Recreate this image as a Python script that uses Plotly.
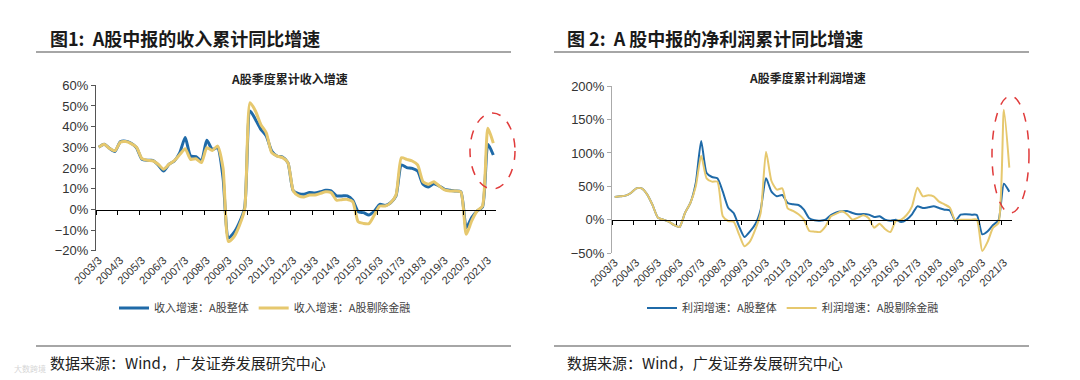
import plotly.graph_objects as go

# ---------------- data ----------------
quarters = [f"{y}/{m}" for y in range(2003, 2022) for m in (3, 6, 9, 12)][:74]
tick_labels = [f"{y}/3" for y in range(2003, 2022)]

rev_all = [30.0, 31.5, 29.5, 28.0, 32.7, 33.0, 32.0, 29.8, 24.2, 23.7, 23.7, 21.5, 18.5, 21.8, 23.4, 27.4,
           34.7, 25.8, 25.5, 23.4, 33.4, 29.0, 29.8, 15.3, -13.7, -11.3, -6.5, 0.8, 47.6, 43.5, 38.7, 35.5,
           28.2, 25.8, 25.3, 22.6, 8.9, 7.6, 7.3, 8.1, 7.9, 8.5, 9.2, 8.9, 6.5, 6.5, 6.5, 4.4,
           -1.1, -1.6, -2.7, -0.8, 2.4, 1.9, 3.2, 6.5, 21.5, 20.2, 19.8, 18.5, 12.1, 10.8, 12.4, 11.3,
           9.7, 9.2, 8.9, 8.5, -8.9, -4.0, -0.8, 1.1, 31.5, 26.3]
rev_exfin = [30.0, 31.5, 29.5, 28.3, 32.5, 32.8, 31.8, 30.0, 24.5, 23.7, 23.5, 21.8, 19.4, 21.8, 23.6, 26.5,
             29.3, 24.2, 24.5, 22.6, 29.8, 28.5, 30.6, 20.0, -15.5, -13.4, -8.0, 0.0, 51.6, 47.6, 41.0, 37.0,
             27.4, 25.8, 25.0, 22.6, 8.9, 6.5, 6.0, 6.9, 6.9, 7.7, 8.5, 8.1, 4.4, 4.7, 4.8, 3.7,
             -6.0, -6.8, -6.9, -2.7, 1.6, 1.6, 3.2, 6.9, 25.0, 24.2, 23.4, 21.5, 13.4, 12.1, 13.4, 11.3,
             9.4, 8.9, 8.9, 8.4, -12.1, -5.6, -0.8, 1.6, 39.2, 32.0]
profit_all = [34, 35, 36, 40, 47, 47, 38, 22, 3, 0, -3, -8, -11, 10, 25, 55,
              118, 70, 64, 62, 42, 18, 10, -10, -26, -18, -7, 15, 62, 42, 35, 37,
              25, 23, 22, 15, 2, -1, -1.5, 0, 7, 11, 12.5, 13, 10, 8, 8.5, 7.5,
              4, 5, 0, -1.5, 0, -3.5, 0, 8, 20, 17.5, 18.5, 20, 17.5, 15, 14, -2,
              7.5, 8, 7.5, 7, -22, -17.5, -8, -1, 54, 42]
profit_exfin = [34, 35, 36, 40, 47, 47, 38, 22, 3, 0, -3, -8, -11, 10, 25, 50,
                96, 62, 57, 57, 5, -2, -3, -22, -40, -33, -15, 10, 102, 58, 45, 47,
                17, 13, 8, 0, -17, -18, -18.5, -10, 5, 9, 12.5, 8, 0, 3, 6.5, 2,
                -12, -6, -14, -18.5, -2, 0, 7, 20, 48, 35, 36.5, 35, 27, 23, 18, -1,
                0, 0, 0, 0, -47, -33, -12, -5, 165, 78]

names_left = ["收入增速：A股整体", "收入增速：A股剔除金融"]
names_right = ["利润增速：A股整体", "利润增速：A股剔除金融"]

BLUE = "#1F6AA8"
GOLD = "#E6C86E"
W, H = 1080, 380


def px(x):
    return x / W


def py(y):
    return 1 - y / H


idx = list(range(len(quarters)))
tickpos = [i for i, q in enumerate(quarters) if q.endswith("/3")]
bounds = [i - 0.5 for i in range(0, len(quarters), 4)]

fig = go.Figure()
line_kw = dict(shape="spline", smoothing=0.6)

fig.add_trace(go.Scatter(x=idx, y=rev_all, name=names_left[0], mode="lines",
                         line=dict(color=BLUE, width=3, **line_kw), xaxis="x", yaxis="y", legend="legend"))
fig.add_trace(go.Scatter(x=idx, y=rev_exfin, name=names_left[1], mode="lines",
                         line=dict(color=GOLD, width=3, **line_kw), xaxis="x", yaxis="y", legend="legend"))
fig.add_trace(go.Scatter(x=idx, y=profit_all, name=names_right[0], mode="lines",
                         line=dict(color=BLUE, width=2, **line_kw), xaxis="x3", yaxis="y2", legend="legend2"))
fig.add_trace(go.Scatter(x=idx, y=profit_exfin, name=names_right[1], mode="lines",
                         line=dict(color=GOLD, width=2, **line_kw), xaxis="x3", yaxis="y2", legend="legend2"))
# invisible carriers for the zero-line axes
fig.add_trace(go.Scatter(x=idx, y=rev_all, mode="lines", opacity=0, showlegend=False, hoverinfo="skip",
                         xaxis="x2", yaxis="y"))
fig.add_trace(go.Scatter(x=idx, y=profit_all, mode="lines", opacity=0, showlegend=False, hoverinfo="skip",
                         xaxis="x4", yaxis="y2"))

xr = [-0.5, len(quarters) - 0.5]
tickfont = dict(family="Liberation Sans, Arial", size=11, color="#333")
ytickfont = dict(family="Liberation Sans, Arial", size=13, color="#333")

L_dom = [px(88), px(488)]
R_dom = [px(604), px(1004)]
L_y = [py(242.7), py(77.3)]
R_y = [py(245), py(78.3)]

common_x = dict(range=xr, showgrid=False, zeroline=False, fixedrange=True, automargin=False)
legfont = dict(family="Noto Sans CJK SC", size=11, color="#404040")
fig.update_layout(
    template="none",
    xaxis=dict(domain=L_dom, anchor="y", tickvals=tickpos, ticktext=tick_labels, tickangle=-45,
               showline=False, ticks="", tickfont=tickfont, **common_x),
    xaxis2=dict(overlaying="x", anchor="free", position=py(201.7), showline=True, linecolor="#000",
                linewidth=1, ticks="outside", ticklen=4, tickcolor="#000", tickvals=bounds,
                showticklabels=False, **common_x),
    yaxis=dict(domain=L_y, anchor="x", range=[-20, 60], dtick=10, ticksuffix="%", showline=True,
               linecolor="#555", ticks="outside", ticklen=4, tickcolor="#555", showgrid=False,
               zeroline=False, tickfont=ytickfont, automargin=False),
    xaxis3=dict(domain=R_dom, anchor="y2", tickvals=tickpos, ticktext=tick_labels, tickangle=-45,
                showline=False, ticks="", tickfont=tickfont, **common_x),
    xaxis4=dict(overlaying="x3", anchor="free", position=py(211.7), showline=True, linecolor="#000",
                linewidth=1, ticks="outside", ticklen=4, tickcolor="#000", tickvals=bounds,
                showticklabels=False, **common_x),
    yaxis2=dict(domain=R_y, anchor="x3", range=[-50, 200], dtick=50, ticksuffix="%", showline=True,
                linecolor="#aaa", ticks="outside", ticklen=4, tickcolor="#aaa", showgrid=False,
                zeroline=False, tickfont=ytickfont, automargin=False),
    legend=dict(x=px(106), y=py(300), xanchor="left", yanchor="middle", orientation="h",
                itemwidth=30, font=legfont, bgcolor="rgba(0,0,0,0)"),
    legend2=dict(x=px(634), y=py(300), xanchor="left", yanchor="middle", orientation="h",
                 itemwidth=30, font=legfont, bgcolor="rgba(0,0,0,0)"),
    width=W, height=H, margin=dict(l=0, r=0, t=0, b=0, autoexpand=False),
    paper_bgcolor="white", plot_bgcolor="white", showlegend=True,
)

cjk = "Noto Sans CJK SC"
ann = [
    dict(text="<b>图1:  A股中报的收入累计同比增速</b>", x=px(40), y=py(30), xanchor="left",
         font=dict(family=cjk, size=18, color="#1a1a1a")),
    dict(text="<b>图 2:  A 股中报的净利润累计同比增速</b>", x=px(557), y=py(30), xanchor="left",
         font=dict(family=cjk, size=18, color="#1a1a1a")),
    dict(text="<b>A股季度累计收入增速</b>", x=px(281), y=py(70), xanchor="center",
         font=dict(family=cjk, size=12, color="#222")),
    dict(text="<b>A股季度累计利润增速</b>", x=px(799), y=py(69), xanchor="center",
         font=dict(family=cjk, size=12, color="#222")),
    dict(text="大数跨境", x=px(4), y=py(360), xanchor="left",
         font=dict(family=cjk, size=8, color="#d6d6d6")),
    dict(text="数据来源：Wind，广发证券发展研究中心", x=px(40), y=py(354), xanchor="left",
         font=dict(family=cjk, size=15, color="#222")),
    dict(text="数据来源：Wind，广发证券发展研究中心", x=px(557), y=py(354), xanchor="left",
         font=dict(family=cjk, size=15, color="#222")),
]
for a in ann:
    fig.add_annotation(xref="paper", yref="paper", yanchor="middle", showarrow=False, **a)

shapes = [
    dict(type="line", x0=px(28), x1=px(503), y0=py(44), y1=py(44), line=dict(color="#888", width=1.5)),
    dict(type="line", x0=px(546), x1=px(1021), y0=py(44), y1=py(44), line=dict(color="#888", width=1.5)),
    dict(type="line", x0=px(28), x1=px(503), y0=py(338), y1=py(338), line=dict(color="#888", width=1.5)),
    dict(type="line", x0=px(546), x1=px(1021), y0=py(338), y1=py(338), line=dict(color="#888", width=1.5)),
    dict(type="circle", x0=px(462), x1=px(507), y0=py(181), y1=py(105),
         line=dict(color="#E03A3A", width=1.5, dash="dash")),
    dict(type="circle", x0=px(984), x1=px(1021), y0=py(205), y1=py(88),
         line=dict(color="#E03A3A", width=1.5, dash="dash")),
]
for s in shapes:
    fig.add_shape(xref="paper", yref="paper", layer="above", **s)

fig.write_html("out.html")
